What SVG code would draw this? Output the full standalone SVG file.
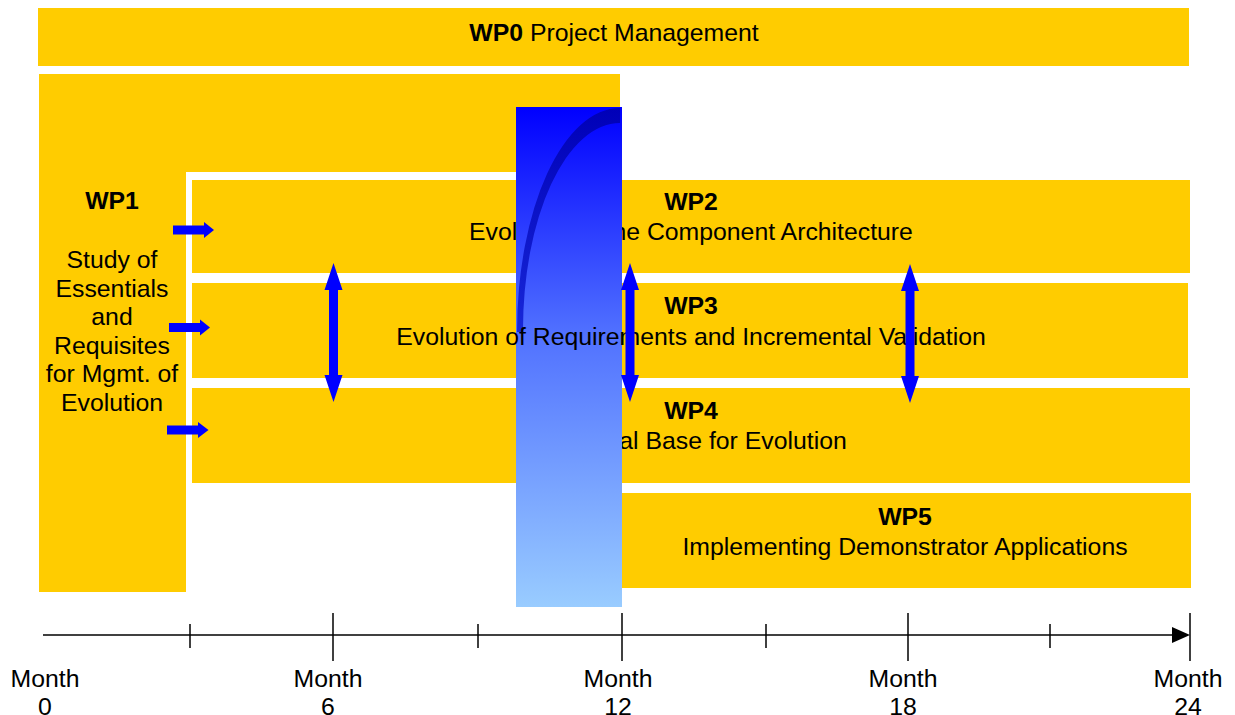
<svg xmlns="http://www.w3.org/2000/svg" width="1235" height="715" viewBox="0 0 1235 715">
<style>
.wp{fill:#ffcc00;}
.t{font-family:"Liberation Sans",Arial,sans-serif;font-size:24.8px;fill:#000000;text-anchor:middle;}
.b{font-weight:bold;}
.arr{fill:#0000ff;stroke:none;}
.ax{stroke:#000000;stroke-width:1.5;fill:none;}
</style>
<defs>
<linearGradient id="barGrad" x1="0" y1="0" x2="0" y2="1">
<stop offset="0" stop-color="#0000ff"/>
<stop offset="0.45" stop-color="#5070ff"/>
<stop offset="1" stop-color="#99ccff"/>
</linearGradient>
<linearGradient id="crGrad" x1="0" y1="0" x2="0" y2="1">
<stop offset="0" stop-color="#0000b8"/>
<stop offset="1" stop-color="#1828d8"/>
</linearGradient>
</defs>
<rect width="1235" height="715" fill="#ffffff"/>

<g id="wp0">
<rect class="wp" x="38" y="8" width="1151" height="58"/>
<text class="t" x="614" y="41"><tspan class="b">WP0</tspan> Project Management</text>
</g>

<g id="wp1">
<polygon class="wp" points="39,74 620,74 620,172 186,172 186,592 39,592"/>
<text class="t b" x="112" y="209">WP1</text>
<text class="t" x="112" y="268">Study of</text>
<text class="t" x="112" y="296.5">Essentials</text>
<text class="t" x="112" y="325">and</text>
<text class="t" x="112" y="353.5">Requisites</text>
<text class="t" x="112" y="382">for Mgmt. of</text>
<text class="t" x="112" y="410.5">Evolution</text>
</g>

<g id="wp2">
<rect class="wp" x="192" y="180" width="998" height="93"/>
<text class="t b" x="691" y="210">WP2</text>
<text class="t" x="691" y="240">Evolution of the Component Architecture</text>
</g>

<g id="wp3">
<rect class="wp" x="192" y="283" width="996" height="95"/>
</g>

<g id="wp4">
<rect class="wp" x="192" y="388" width="998" height="95"/>
<text class="t b" x="691" y="419">WP4</text>
<text class="t" x="691" y="449">Technical Base for Evolution</text>
</g>

<g id="wp5">
<rect class="wp" x="620" y="493" width="571" height="95"/>
<text class="t b" x="905" y="525">WP5</text>
<text class="t" x="905" y="555">Implementing Demonstrator Applications</text>
</g>

<g id="bar">
<rect x="516" y="107" width="106" height="500" fill="url(#barGrad)"/>
<path d="M517,332 A103,224 0 0 1 620,108 L620,123 A97,207 0 0 0 523,332 Z" fill="url(#crGrad)"/>
</g>

<g id="wp3-label">
<text class="t b" x="691" y="314">WP3</text>
<text class="t" x="691" y="345">Evolution of Requirements and Incremental Validation</text>
</g>

<g id="connectors">
<polygon class="arr" points="173,225.5 204,225.5 204,222 214,230 204,238 204,234.5 173,234.5"/>
<polygon class="arr" points="169,323 200,323 200,319.5 210,327.5 200,335.5 200,332 169,332"/>
<polygon class="arr" points="167,425.5 198,425.5 198,422 208.5,430 198,438 198,434.5 167,434.5"/>
<polygon class="arr" points="333.5,263 342.5,290 338,290 338,375 342.5,375 333.5,402 324.5,375 329,375 329,290 324.5,290"/>
<polygon class="arr" points="630,263 639,290 634.5,290 634.5,375 639,375 630,402 621,375 625.5,375 625.5,290 621,290"/>
<polygon class="arr" points="910,264 919,291 914.5,291 914.5,376 919,376 910,403 901,376 905.5,376 905.5,291 901,291"/>
</g>

<g id="axis">
<line class="ax" x1="43" y1="635" x2="1175" y2="635"/>
<polygon points="1172,627 1190,635 1172,643" fill="#000000"/>
<line class="ax" x1="190" y1="624" x2="190" y2="648"/>
<line class="ax" x1="478" y1="624" x2="478" y2="648"/>
<line class="ax" x1="766" y1="624" x2="766" y2="648"/>
<line class="ax" x1="1050" y1="624" x2="1050" y2="648"/>
<line class="ax" x1="333" y1="613" x2="333" y2="661"/>
<line class="ax" x1="622" y1="613" x2="622" y2="661"/>
<line class="ax" x1="908" y1="613" x2="908" y2="661"/>
<line class="ax" x1="1190" y1="613" x2="1190" y2="661"/>
<text class="t" x="45" y="687">Month</text>
<text class="t" x="45" y="714.5">0</text>
<text class="t" x="328" y="687">Month</text>
<text class="t" x="328" y="714.5">6</text>
<text class="t" x="618" y="687">Month</text>
<text class="t" x="618" y="714.5">12</text>
<text class="t" x="903" y="687">Month</text>
<text class="t" x="903" y="714.5">18</text>
<text class="t" x="1188" y="687">Month</text>
<text class="t" x="1188" y="714.5">24</text>
</g>
</svg>
